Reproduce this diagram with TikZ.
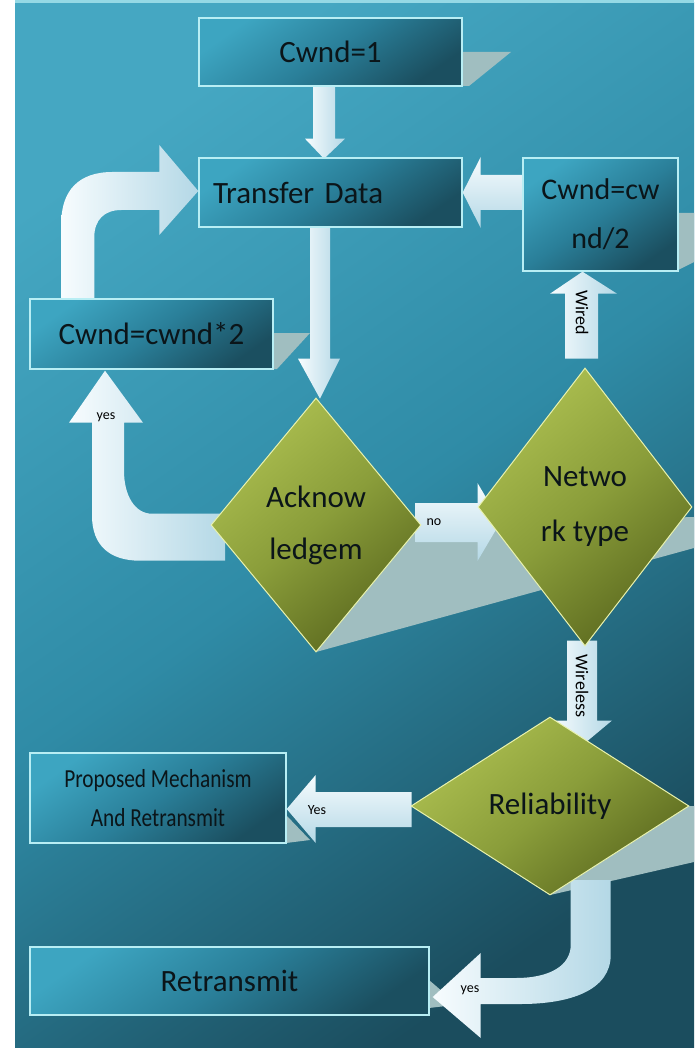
\documentclass[tikz,border=0pt]{standalone}
\usepackage{fontspec}
\setmainfont{Carlito}
\newfontfamily\condfont[FakeStretch=0.82]{Carlito}
\usetikzlibrary{shapes.geometric,calc}
\definecolor{bgA}{HTML}{45A7C2}
\definecolor{bgM}{HTML}{2F8BA6}
\definecolor{bgB}{HTML}{1B4D5E}
\definecolor{boxA}{HTML}{3DA5C1}
\definecolor{boxM}{HTML}{2A7F99}
\definecolor{boxB}{HTML}{1B4F60}
\definecolor{boxline}{HTML}{B8EEF4}
\definecolor{dmA}{HTML}{ACBF50}
\definecolor{dmM}{HTML}{8A9D3A}
\definecolor{dmB}{HTML}{5C6A1F}
\definecolor{dmline}{HTML}{E9F2AE}
\definecolor{arA}{HTML}{F7FCFE}
\definecolor{arB}{HTML}{B4D8E6}
\definecolor{shd}{HTML}{A0BEC0}
\definecolor{ink}{HTML}{0B1519}
\pgfdeclarelayer{bglayer}
\pgfdeclarelayer{arrowlayer}
\pgfsetlayers{bglayer,arrowlayer,main}
\begin{document}
\begin{tikzpicture}[x=1pt,y=-1pt,
  box/.style={rectangle, draw=boxline, line width=1.4pt, top color=boxA, bottom color=boxB, middle color=boxM, shading angle=35, inner sep=0pt, text=ink},
  dmd/.style={diamond, draw=dmline, line width=1pt, top color=dmA, bottom color=dmB, middle color=dmM, shading angle=40, inner sep=0pt, text=ink, align=center},
  big/.style={font=\fontsize{31}{40}\selectfont},
  small/.style={font=\fontsize{14}{16}\selectfont, text=black, inner sep=0pt},
  rot/.style={font=\fontsize{18}{20}\selectfont, text=black, inner sep=0pt, rotate=-90},
  varr/.style={left color=arA, right color=arB},
  harr/.style={top color=arA, bottom color=arB},
  shadowfill/.style={fill=shd}
]
\useasboundingbox (0,0) rectangle (694,1048);

% nodes
\node[box, minimum width=263pt, minimum height=68pt, big] (cw1) at (330.5,52) {Cwnd=1};
\node[box, minimum width=263pt, minimum height=69pt, big, text width=235pt, align=left] (td) at (330.5,192.5) {Transfer Data};
\node[box, minimum width=155pt, minimum height=113pt, align=center, font=\fontsize{30}{49}\selectfont] (half) at (600.5,214.5) {Cwnd=cw\\nd/2};
\node[box, minimum width=243pt, minimum height=70pt, big] (dbl) at (151.5,334) {Cwnd=cwnd*2};
\node[box, minimum width=256pt, minimum height=90pt, align=center, font=\condfont\fontsize{26}{39}\selectfont] (prop) at (158,798) {Proposed Mechanism\\And Retransmit};
\node[box, minimum width=399pt, minimum height=68pt, big] (ret) at (229.5,981) {Retransmit};
\node[dmd, minimum width=210pt, minimum height=254pt, font=\fontsize{31}{52}\selectfont] (ack) at (316,525) {Acknow\\ledgem};
\node[dmd, minimum width=214pt, minimum height=278pt, font=\fontsize{31}{55}\selectfont] (net) at (585,507) {Netwo\\rk type};
\node[dmd, minimum width=278pt, minimum height=178pt, big] (rel) at (550,806) {Reliability};

% labels
\node[small] (lyes1) at (106,417) {yes};
\node[small] (lno) at (434,522) {no};
\node[rot] (lwired) at (582,313) {Wired};
\node[rot] (lwireless) at (582,686) {Wireless};
\node[small] (lyes2) at (317,810) {Yes};
\node[small] (lyes3) at (470,990) {yes};

% background and shadows
\begin{pgfonlayer}{bglayer}
\fill[white] (0,0) rectangle (694,1048);
\shade[top color=bgA, bottom color=bgB, middle color=bgM, shading angle=35] (15,3) rectangle (694,1048);
\fill[boxline!70!bgA] (15,0) rectangle (694,3);
\fill[shadowfill] (462,52) -- (511,52) -- (469,86) -- (462,86) -- cycle;
\fill[shadowfill] (273,333) -- (310,333) -- (277,369) -- (273,369) -- cycle;
\fill[shadowfill] (678,213) -- (694,213) -- (694,262) -- (678,270) -- cycle;
\fill[shadowfill] (316,652) -- (421,525) -- (694,517) -- (694,548) -- cycle;
\fill[shadowfill] (550,895) -- (689,806) -- (694,806) -- (694,862) -- cycle;
\fill[shadowfill] (286,815) -- (310,840) -- (286,843) -- cycle;
\fill[shadowfill] (429,980) -- (443,992) -- (446,1006) -- (429,1008) -- cycle;
\end{pgfonlayer}

% block arrows
\begin{pgfonlayer}{arrowlayer}
\shade[varr, shift={(cw1.south)}] (-17.5,0) -- (4.5,0) -- (4.5,52) -- (14.5,52) -- (-6.5,72) -- (-25.5,52) -- (-17.5,52) -- cycle;
\shade[varr, shift={(td.south)}] (-20.5,0) -- (-0.5,0) -- (-0.5,131) -- (9.5,131) -- (-10.5,171) -- (-32.5,131) -- (-20.5,131) -- cycle;
\shade[varr, shift={(td.west)}] (-137,106.5) -- (-137,30.5) .. controls (-137,-2.5) and (-119,-20.5) .. (-86,-20.5) -- (-39,-20.5) -- (-39,-47.5) -- (0,-1.5) -- (-39,42.5) -- (-39,17.5) -- (-77,17.5) .. controls (-94,17.5) and (-104,27.5) .. (-104,44.5) -- (-104,106.5) -- cycle;
\shade[harr, shift={(td.east)}] (61,-17.5) -- (18,-17.5) -- (18,-35.5) -- (0,0) -- (18,35.5) -- (18,17.5) -- (61,17.5) -- cycle;
\shade[varr, shift={(half.south)}] (-35.5,87) -- (-2.5,87) -- (-2.5,22) -- (16.5,22) -- (-18,0) -- (-50.5,22) -- (-35.5,22) -- cycle;
\shade[harr, shift={(ack.east)}] (-6,-22) -- (56,-22) -- (56,-42) -- (79,-3) -- (56,36) -- (56,17) -- (-6,17) -- cycle;
\shade[varr, shift={(net.south)}] (-18,-6) -- (12,-6) -- (12,74) -- (27,74) -- (-3,99) -- (-33,74) -- (-18,74) -- cycle;
\shade[harr, shift={(prop.east)}] (125,-6) -- (29,-6) -- (29,-23) -- (0,11) -- (29,45) -- (29,29) -- (125,29) -- cycle;
\shade[varr, shift={(ret.east)}] (141,-101) -- (181,-101) -- (181,-26) .. controls (181,9) and (141,23) .. (91,23) -- (51,23) -- (51,57) -- (3,16) -- (51,-28) -- (51,-3) -- (86,-3) .. controls (121,-3) and (141,-16) .. (141,-36) -- cycle;
\shade[varr, shift={(dbl.south)}] (-59.5,53) -- (-59.5,146) .. controls (-59.5,176) and (-41.5,191) .. (-11.5,191) -- (73.5,191) -- (73.5,144) -- (0.5,144) .. controls (-16.5,144) and (-27.5,126) .. (-27.5,101) -- (-27.5,53) -- (-8.5,53) -- (-46.5,1) -- (-82.5,53) -- cycle;
\end{pgfonlayer}
\end{tikzpicture}
\end{document}
